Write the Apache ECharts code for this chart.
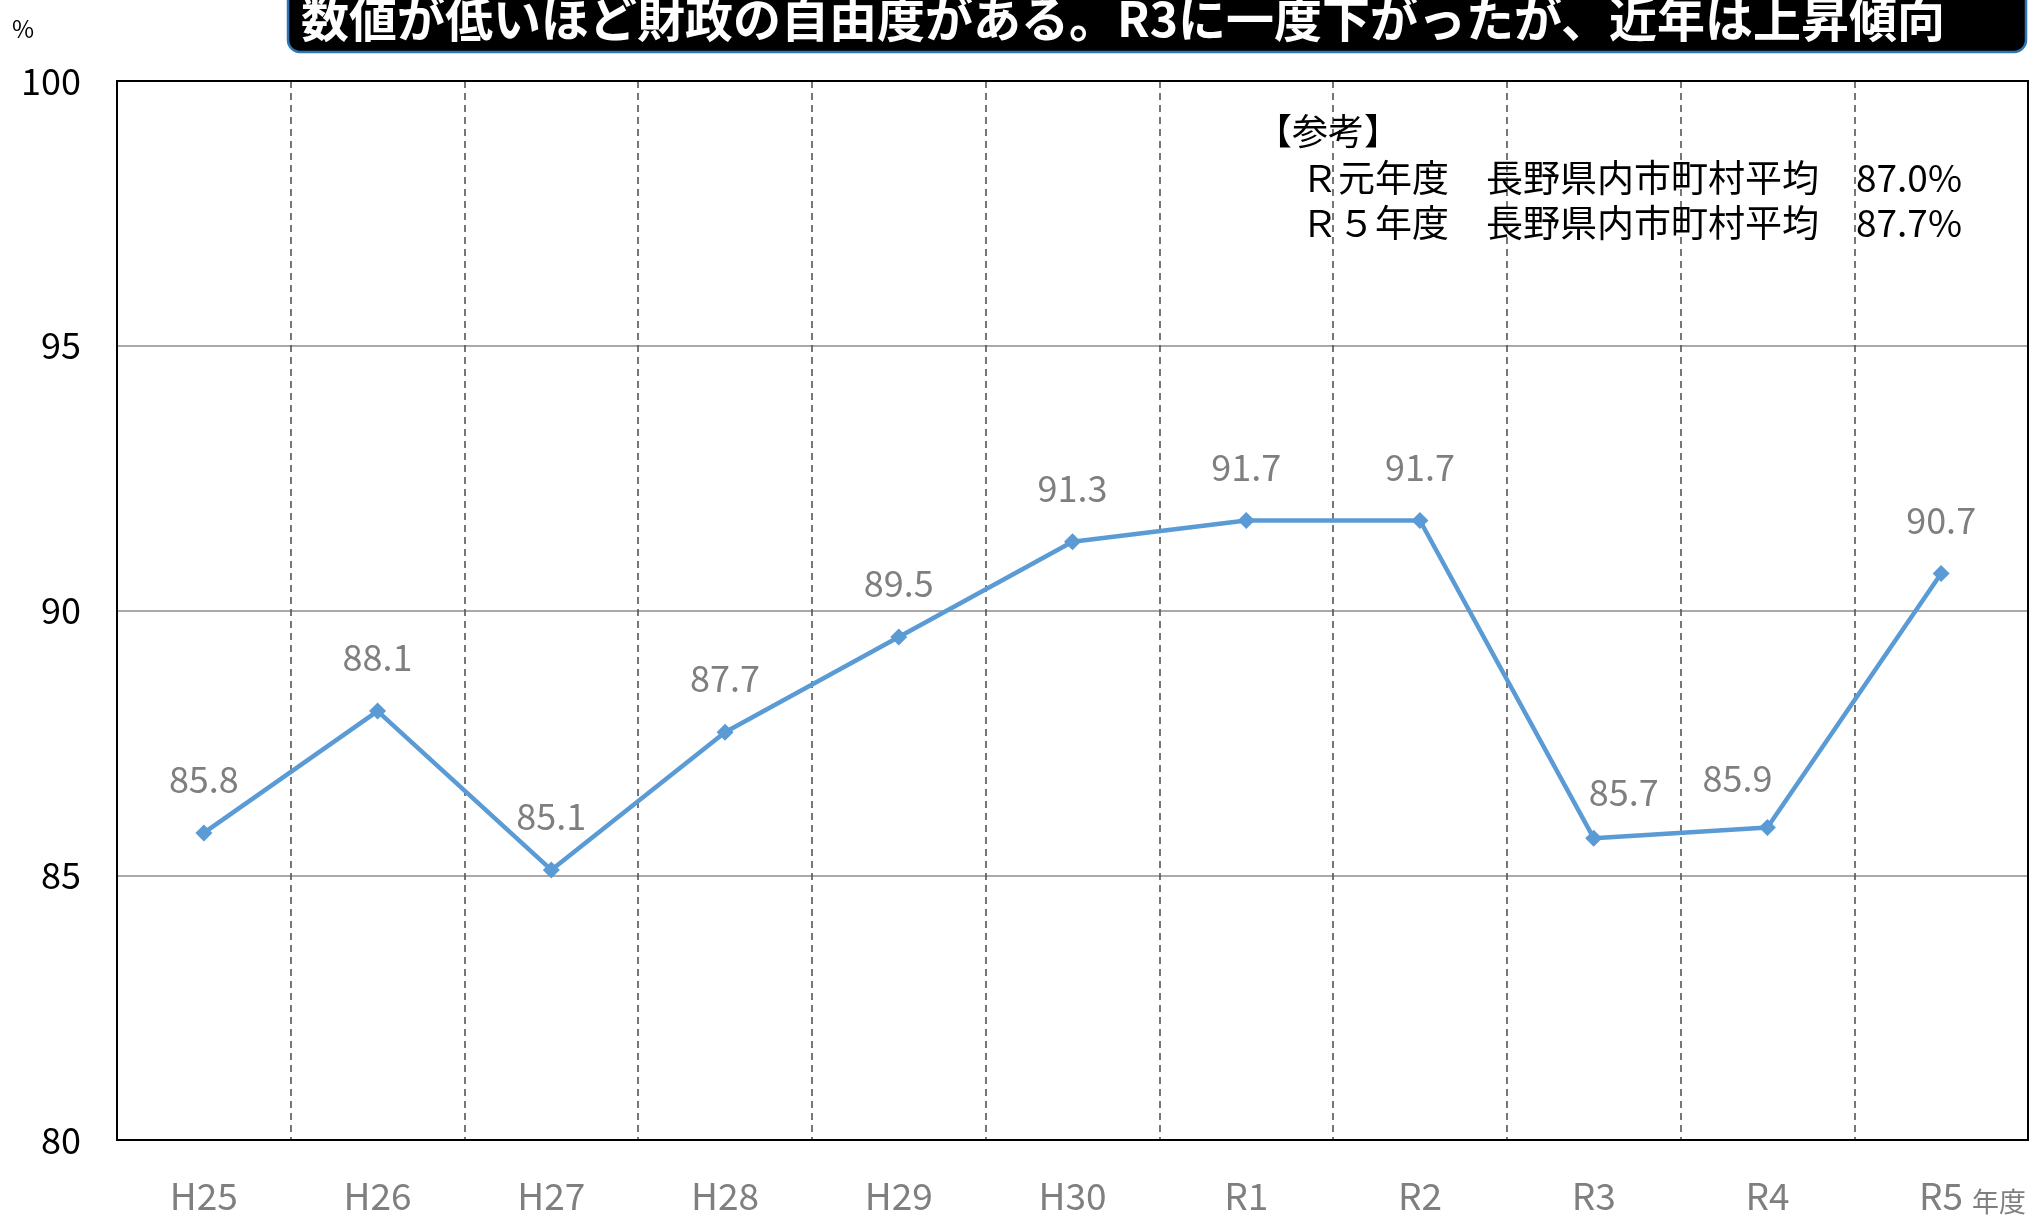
<!DOCTYPE html>
<html>
<head>
<meta charset="utf-8">
<script src="https://cdn.jsdelivr.net/npm/echarts@6/dist/echarts.min.js"></script>
<style>
html,body{margin:0;padding:0;background:#fff;}
#main{width:2036px;height:1216px;}
</style>
</head>
<body>
<div id="main"></div>
<script>
// 年度
var years = ['H25','H26','H27','H28','H29','H30','R1','R2','R3','R4','R5'];
// 経常収支比率 (%)
var ratio = [85.8, 88.1, 85.1, 87.7, 89.5, 91.3, 91.7, 91.7, 85.7, 85.9, 90.7];
// y軸
var yMin = 80;
var yMax = 100;
var yStep = 5;

var titleText = '数値が低いほど財政の自由度がある。R3に一度下がったが、近年は上昇傾向';
var noteHead = '【参考】';
var noteLines = ['　Ｒ元年度　長野県内市町村平均　87.0%', '　Ｒ５年度　長野県内市町村平均　87.7%'];

var fontJP = '"Noto Sans CJK JP", "Noto Sans", sans-serif';

function buildData(){
    // ラベルの位置調整（R3, R4 が重ならないように）
    var shift = {8: [30, 8], 9: [-30, 4]};
    var list = [];
    for(var i=0;i<ratio.length;i++){
        var item = {value: ratio[i]};
        if(shift[i]){
            item.label = {offset: shift[i]};
        }
        list.push(item);
    }
    return list;
}

function buildGraphic(){
    var g = [];
    // タイトルの黒い帯
    g.push({
        type: 'rect',
        shape: {x: 288, y: -24, width: 1738, height: 76, r: 12},
        style: {fill: '#000', stroke: '#2e75b6', lineWidth: 2.5},
        z: 10
    });
    g.push({
        type: 'text',
        x: 301, y: 19,
        style: {text: titleText, fill: '#fff', font: 'bold 48px ' + fontJP, textVerticalAlign: 'middle'},
        z: 11
    });
    g.push({
        type: 'text',
        x: 12, y: 29,
        style: {text: '%', fill: '#000', font: '24px ' + fontJP, textVerticalAlign: 'middle'},
        z: 11
    });
    g.push({
        type: 'text',
        x: 1256, y: 131,
        style: {text: noteHead, fill: '#000', font: '36px ' + fontJP, textVerticalAlign: 'middle'},
        z: 11
    });
    var ys = [178, 223];
    for(var i=0;i<noteLines.length;i++){
        g.push({
            type: 'text',
            x: 1264, y: ys[i],
            style: {text: noteLines[i], fill: '#000', font: '37px ' + fontJP, textVerticalAlign: 'middle'},
            z: 11
        });
    }
    g.push({
        type: 'text',
        x: 1972, y: 1202,
        style: {text: '年度', fill: '#7f7f7f', font: '27px ' + fontJP, textVerticalAlign: 'middle'},
        z: 11
    });
    return g;
}

var myChart = echarts.init(document.getElementById('main'));
var option = {
    animation: false,
    backgroundColor: '#fff',
    textStyle: {fontFamily: fontJP},
    grid: {
        left: 117,
        right: 8,
        top: 81,
        bottom: 76,
        show: true,
        borderColor: '#000',
        borderWidth: 2,
        backgroundColor: 'transparent',
        z: 3
    },
    xAxis: {
        type: 'category',
        data: years,
        boundaryGap: true,
        axisLine: {show: false},
        axisTick: {show: false},
        axisLabel: {color: '#7f7f7f', fontSize: 37, margin: 37},
        splitLine: {
            show: true,
            interval: 0,
            lineStyle: {color: '#555', width: 1.6, type: [7, 5]}
        }
    },
    yAxis: {
        type: 'value',
        min: yMin,
        max: yMax,
        interval: yStep,
        axisLine: {show: false},
        axisTick: {show: false},
        axisLabel: {color: '#000', fontSize: 36, margin: 36},
        splitLine: {lineStyle: {color: '#8c8c8c', width: 1.6}}
    },
    series: [{
        type: 'line',
        data: buildData(),
        symbol: 'diamond',
        symbolSize: 17,
        itemStyle: {color: '#5b9bd5'},
        lineStyle: {color: '#5b9bd5', width: 4.5},
        label: {
            show: true,
            position: 'top',
            distance: 27,
            color: '#7f7f7f',
            fontSize: 36,
            formatter: function(p){ return p.value.toFixed(1); }
        },
        z: 5
    }],
    graphic: buildGraphic()
};
myChart.setOption(option);
</script>
</body>
</html>
